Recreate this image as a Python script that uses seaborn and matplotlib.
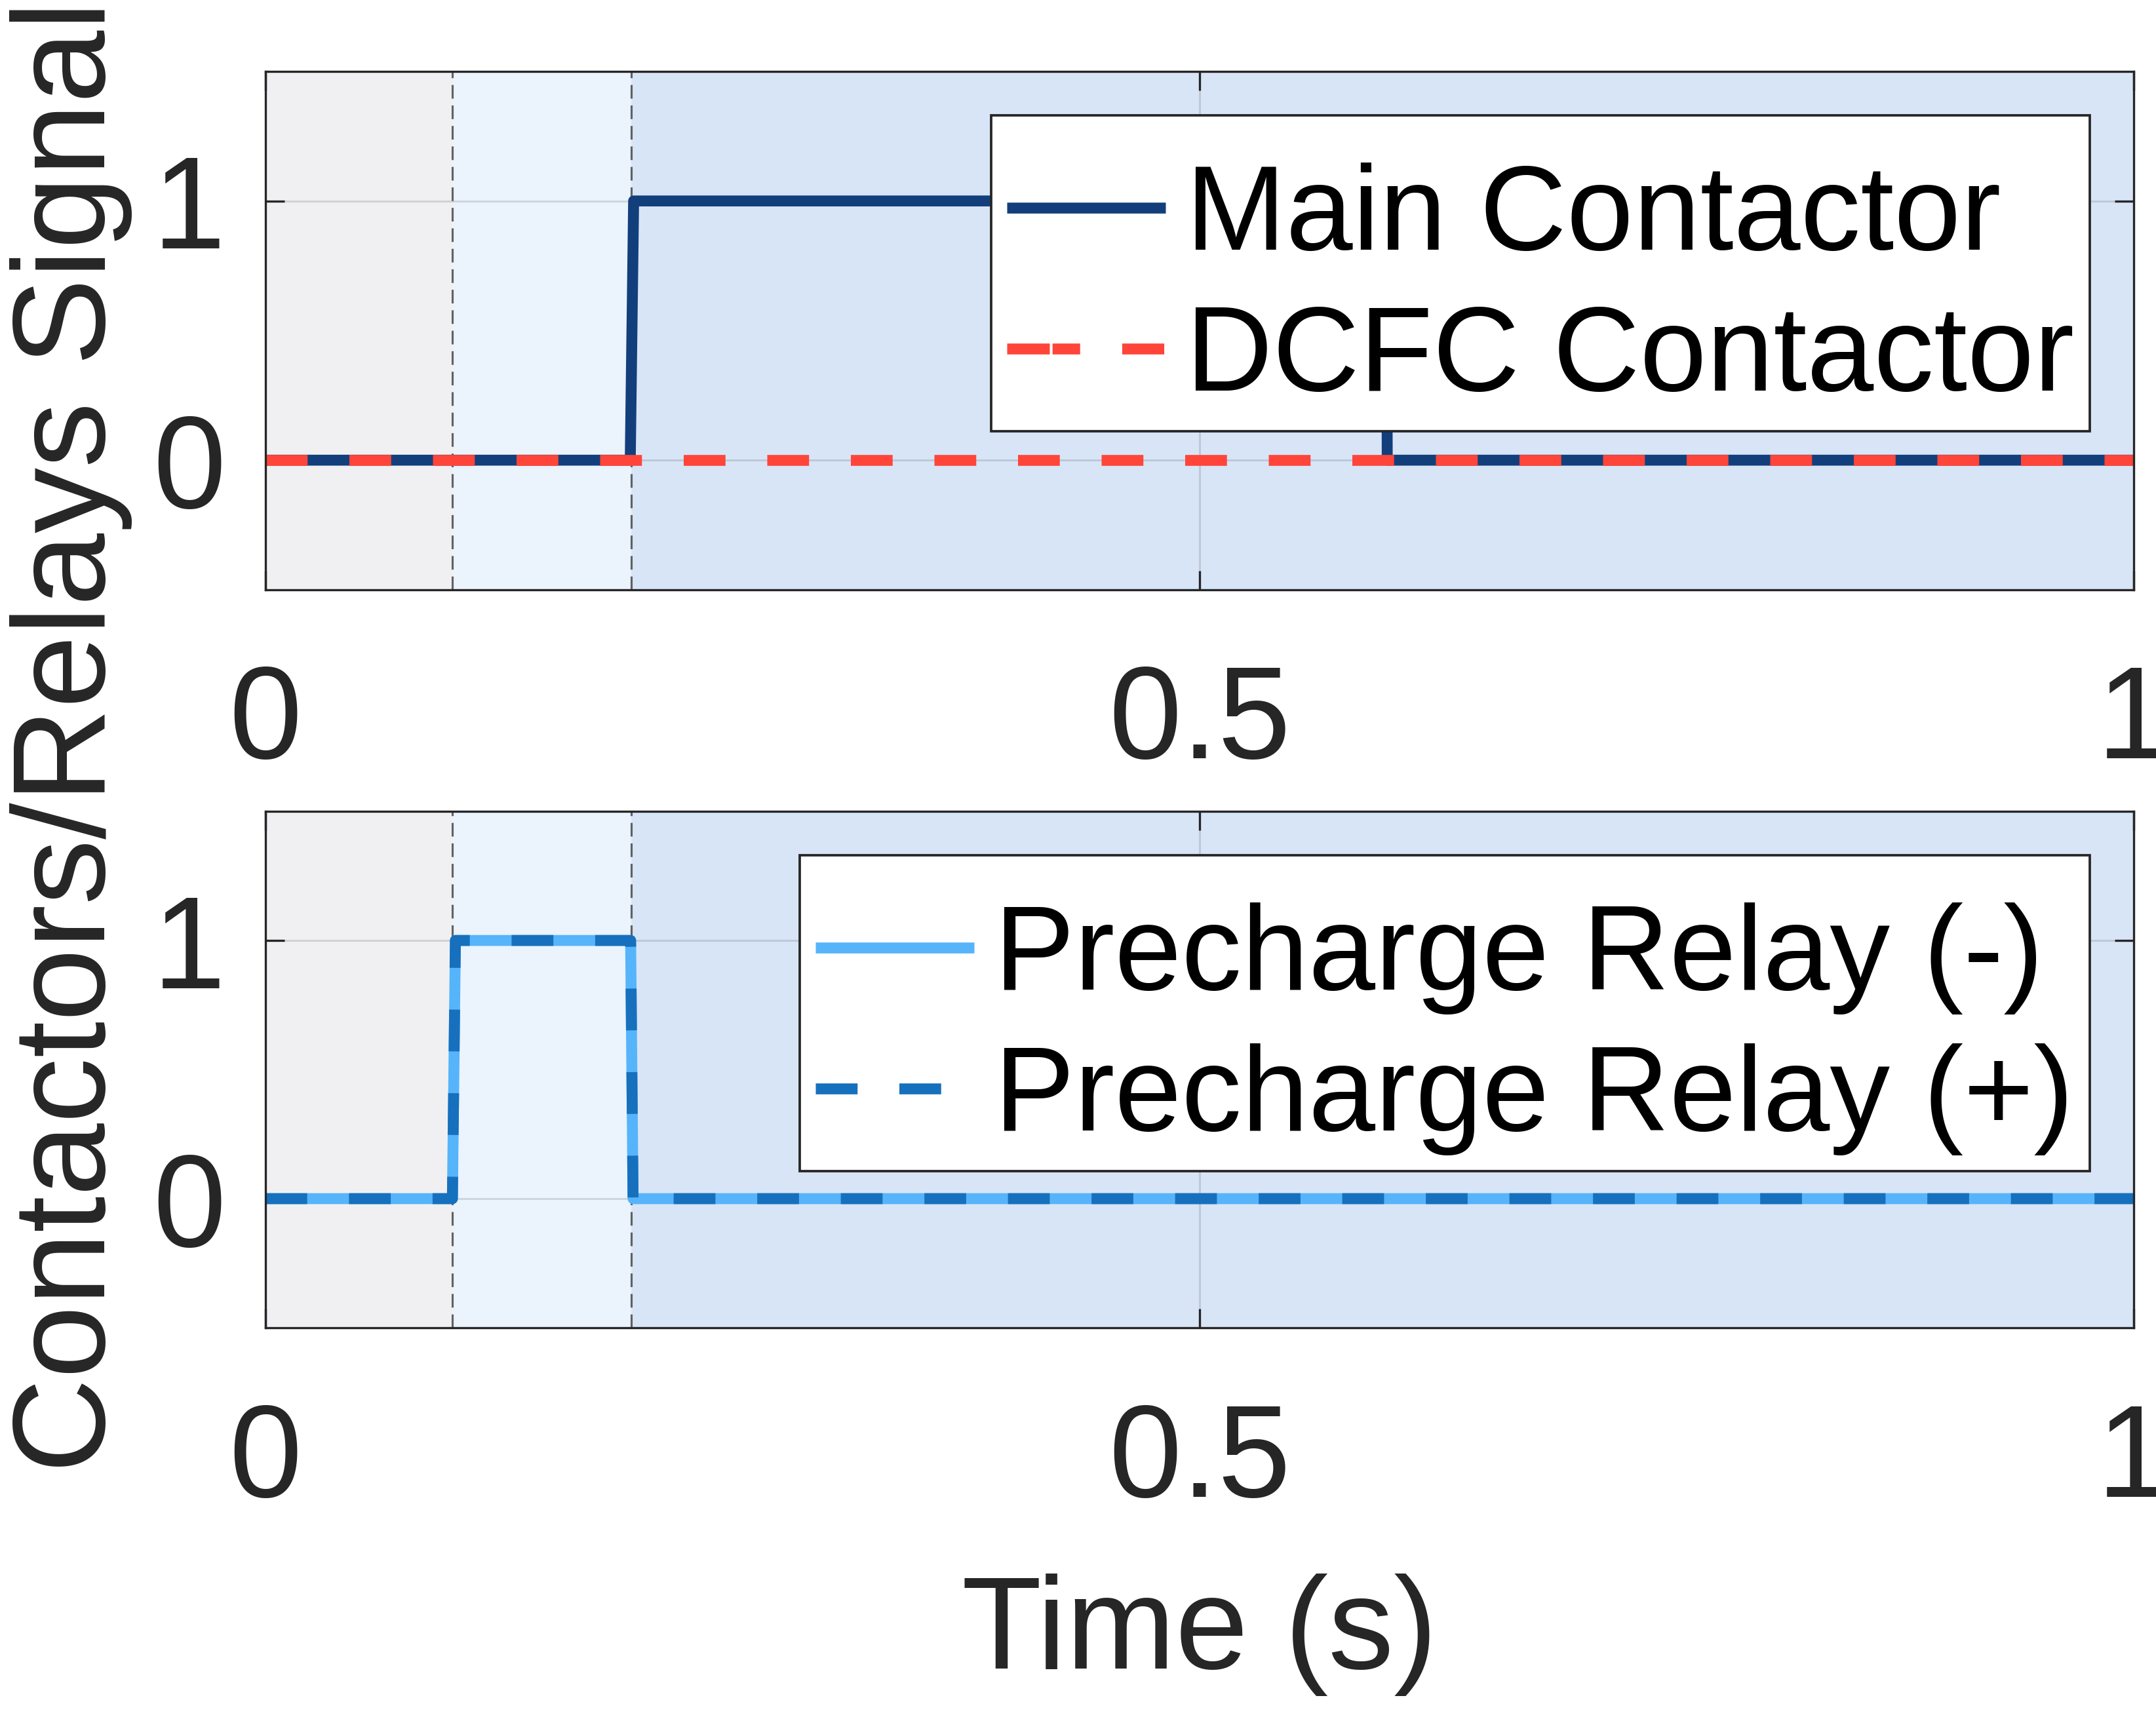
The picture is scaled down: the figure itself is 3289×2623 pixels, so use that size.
import numpy as np
import pandas as pd
import seaborn as sns
import matplotlib.pyplot as plt

# time (s) and on/off signal for each contactor / relay
time_main = [0.0, 0.1953, 0.1971, 0.600, 0.6005, 1.0]
main_contactor = [0, 0, 1, 1, 0, 0]
time_dcfc = [0.0, 1.0]
dcfc_contactor = [0, 0]
time_pre = [0.0, 0.1001, 0.1017, 0.1955, 0.1968, 1.0]
precharge_neg = [0, 0, 1, 1, 0, 0]
precharge_pos = [0, 0, 1, 1, 0, 0]

# phase boundaries (s) and their shading
phase_edges = [0.0, 0.1, 0.196, 1.0]
phase_colors = ['#f0f0f2', '#ebf3fd', '#d8e5f7']

x_ticks = [0, 0.5, 1]
x_ticklabels = ['0', '0.5', '1']
y_ticks = [0, 1]
y_ticklabels = ['0', '1']

sns.set_theme(style='ticks')
plt.rcParams['font.family'] = ['Liberation Sans', 'DejaVu Sans']
plt.rcParams['lines.scale_dashes'] = False

ink = '#262626'
lw = 4.0
fig = plt.figure(figsize=(3289 / 300, 2623 / 300), dpi=300)
ax1 = fig.add_axes([0.1231, 0.6569, 0.8665, 0.3016])
ax2 = fig.add_axes([0.1231, 0.2276, 0.8665, 0.3004])


def style_axes(ax):
    for i in range(len(phase_colors)):
        ax.axvspan(phase_edges[i], phase_edges[i + 1], color=phase_colors[i], lw=0, zorder=0)
    for xv in phase_edges[1:-1]:
        ax.axvline(xv, color='#4a4a4a', alpha=0.85, lw=0.75, dashes=(5, 2.5), zorder=1.5)
    ax.set_xlim(0, 1)
    ax.set_ylim(-0.5, 1.5)
    ax.set_xticks(x_ticks)
    ax.set_xticklabels(x_ticklabels)
    ax.set_yticks(y_ticks)
    ax.set_yticklabels(y_ticklabels)
    ax.grid(True, color=ink, alpha=0.15, lw=0.7)
    ax.set_axisbelow(True)
    ax.tick_params(axis='both', direction='in', length=7, width=0.8, color=ink,
                   labelsize=48, labelcolor=ink, top=True, right=True)
    ax.tick_params(axis='x', pad=27)
    ax.tick_params(axis='y', pad=14.5)
    for s in ax.spines.values():
        s.set_color(ink)
        s.set_linewidth(0.8)
        s.set_zorder(5)
    ax.set_xlabel('')
    ax.set_ylabel('')


def finish_line(line, dashes=None):
    line.set_solid_joinstyle('round')
    line.set_solid_capstyle('butt')
    if dashes is not None:
        line.set_dashes(dashes)
        line.set_dash_capstyle('butt')


# top panel: contactors
sns.lineplot(x=time_main, y=main_contactor, ax=ax1, sort=False, estimator=None,
             color='#123f7c', lw=lw, label='Main Contactor')
finish_line(ax1.lines[-1])
sns.lineplot(x=time_dcfc, y=dcfc_contactor, ax=ax1, sort=False, estimator=None,
             color='#ff453a', lw=lw, label='DCFC Contactor')
finish_line(ax1.lines[-1], (15.3, 15.3))
style_axes(ax1)

# bottom panel: precharge relays
sns.lineplot(x=time_pre, y=precharge_neg, ax=ax2, sort=False, estimator=None,
             color='#56b4fa', lw=lw, label='Precharge Relay (-)')
finish_line(ax2.lines[-1])
sns.lineplot(x=time_pre, y=precharge_pos, ax=ax2, sort=False, estimator=None,
             color='#1670bd', lw=lw, label='Precharge Relay (+)')
finish_line(ax2.lines[-1], (15.3, 15.3))
style_axes(ax2)
ax2.set_xlabel('Time (s)', fontsize=48, color=ink, labelpad=18)

legends = []
for ax in (ax1, ax2):
    leg = ax.legend(loc='upper right', bbox_to_anchor=(0.9765, 0.915), borderaxespad=0,
                    fontsize=44, frameon=True, fancybox=False, framealpha=1,
                    edgecolor=ink, handlelength=1.32, handletextpad=0.17,
                    borderpad=0.13, labelspacing=0.24, title=' ', title_fontsize=1)
    leg.get_frame().set_linewidth(0.9)
    leg.set_zorder(6)
    for t in leg.get_texts():
        t.set_color('black')
    legends.append(leg)

# the DCFC legend key is drawn with an uneven dash in the original
legends[0].get_lines()[1].set_dashes((15.6, 1.0, 10.1, 15.4, 15.4, 15.4))

fig.text(0.0331, 0.5715, 'Contactors/Relays Signal', rotation=90, ha='center',
         va='center', fontsize=48, color=ink)

fig.savefig('out.png', dpi=300)
